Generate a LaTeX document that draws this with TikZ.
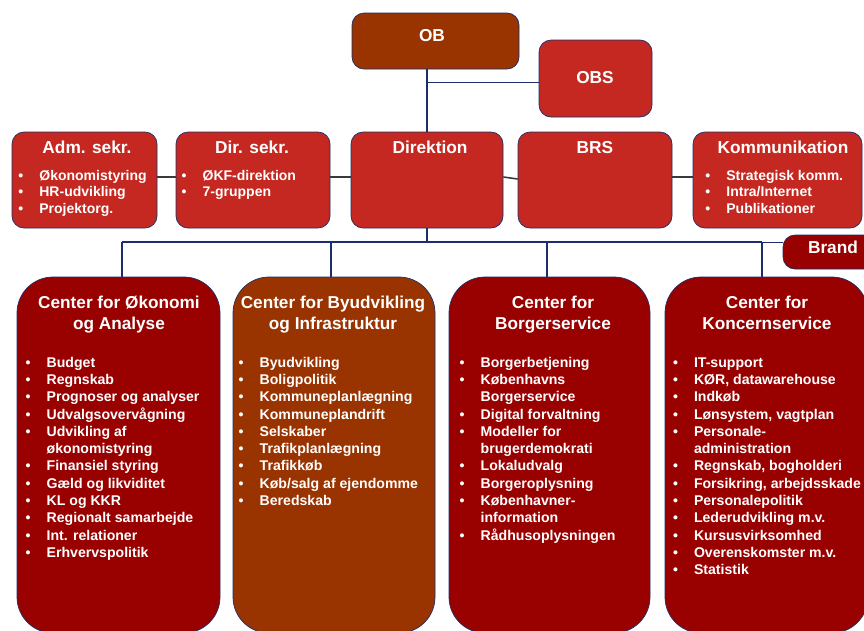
\documentclass[tikz,border=0pt]{standalone}
\usepackage{fontspec}
\setmainfont{Liberation Sans}

\definecolor{navy}{HTML}{1C2F6B}
\definecolor{obbrown}{HTML}{993300}
\definecolor{unitred}{HTML}{C42820}
\definecolor{centerred}{HTML}{990000}
\definecolor{linegray}{HTML}{3A3A3A}

% bullet and hanging indent for the item lists
\newcommand\bu{\makebox[21pt][l]{•}}
\newcommand\nb{\hspace*{21pt}}

\tikzset{
  unit/.style={draw=navy, line width=0.7pt, rounded corners=12pt, inner sep=0pt},
  bigunit/.style={unit, rounded corners=36pt, minimum width=202pt, minimum height=356pt},
  rowunit/.style={unit, minimum height=96pt},
  bus/.style={draw=navy, line width=1.6pt},
  peer/.style={draw=linegray, line width=1.6pt},
  title/.style={text=white, inner sep=0pt, anchor=base,
    font=\bfseries\fontsize{17.3}{20}\selectfont},
  bigtitle/.style={text=white, inner sep=0pt, anchor=base,
    font=\bfseries\fontsize{17.2}{21}\selectfont},
  biglist/.style={text=white, inner sep=0pt, anchor=base west,
    font=\bfseries\fontsize{14.1}{17.33}\selectfont},
  rowlist/.style={text=white, inner sep=0pt, anchor=base west,
    font=\bfseries\fontsize{14}{16.7}\selectfont},
}

\begin{document}
\begin{tikzpicture}[x=1pt, y=-1pt]
\useasboundingbox (0,0) rectangle (864,630);

% ---- top level
\node[unit, fill=obbrown, minimum width=167pt, minimum height=56pt] (OB) at (435.5,41) {};
\node[unit, fill=unitred, minimum width=113pt, minimum height=77pt] (OBS) at (595.5,78.5) {};

% ---- staff row
\node[rowunit, fill=unitred, minimum width=145pt] (Adm) at (84.5,180) {};
\node[rowunit, fill=unitred, minimum width=154pt] (Dir) at (253,180) {};
\node[rowunit, fill=unitred, minimum width=152pt] (Direktion) at (427,180) {};
\node[rowunit, fill=unitred, minimum width=154pt] (BRS) at (595,180) {};
\node[rowunit, fill=unitred, minimum width=169pt] (Komm) at (777.5,180) {};

\node[unit, fill=centerred, minimum width=97pt, minimum height=34pt] (Brand) at (831.5,252) {};

% ---- centres
\node[bigunit, fill=centerred, minimum width=203pt] (C1) at (118.5,455) {};
\node[bigunit, fill=obbrown] (C2) at (334,455) {};
\node[bigunit, fill=centerred, minimum width=201pt] (C3) at (549.5,455) {};
\node[bigunit, fill=centerred, minimum width=203pt] (C4) at (766.5,455) {};

% ---- connectors
\coordinate (obsin) at ([yshift=-4pt]OBS.west);
\coordinate (busy) at (0,242);
\coordinate (d1) at ([xshift=3.5pt]C1.north);
\coordinate (d2) at ([xshift=-3pt]C2.north);
\coordinate (d3) at ([xshift=-2.5pt]C3.north);
\coordinate (d4) at ([xshift=-4.5pt]C4.north);

\draw[bus] (OB.south -| Direktion.north) -- (Direktion.north);
\draw[bus] (obsin -| Direktion.north) -- (obsin);
\draw[bus] (Direktion.south) -- (Direktion.south |- busy);
\draw[bus] (d1 |- busy) -- (d4 |- busy);
\draw[draw=navy, line width=1pt] (d4 |- busy) -- (Brand.west |- busy);
\foreach \d in {d1,d2,d3,d4} \draw[bus] (\d |- busy) -- (\d);

\draw[peer] ([yshift=3pt]Adm.east) -- ([yshift=3pt]Dir.west);
\draw[peer] ([yshift=3pt]Dir.east) -- ([yshift=3pt]Direktion.west);
\draw[peer] ([yshift=3pt]Direktion.east) -- ([yshift=1pt]BRS.west);
\draw[peer] ([yshift=3pt]BRS.east) -- ([yshift=3pt]Komm.west);

% ---- titles
\node[title] (tOB) at (432,41.7) {OB};
\node[title] (tOBS) at (595,83.3) {OBS};
\node[title] (tAdm) at (87,153) {Adm. sekr.};
\node[title] (tDir) at (252,153) {Dir. sekr.};
\node[title] (tDirektion) at (430,153) {Direktion};
\node[title] (tBRS) at (595,153) {BRS};
\node[title] (tKomm) at (783,153) {Kommunikation};
\node[title] (tBrand) at (833,253.3) {Brand};

\node[bigtitle] (tC1) at (119,308.3) {\begin{tabular}[t]{@{}c@{}}Center for Økonomi\\og Analyse\end{tabular}};
\node[bigtitle] (tC2) at (333,308.3) {\begin{tabular}[t]{@{}c@{}}Center for Byudvikling\\og Infrastruktur\end{tabular}};
\node[bigtitle] (tC3) at (553,308.3) {\begin{tabular}[t]{@{}c@{}}Center for\\Borgerservice\end{tabular}};
\node[bigtitle] (tC4) at (767,308.3) {\begin{tabular}[t]{@{}c@{}}Center for\\Koncernservice\end{tabular}};

% ---- staff lists
\node[rowlist] (lAdm) at (18.2,180) {\begin{tabular}[t]{@{}l@{}}
\bu Økonomistyring\\ \bu HR-udvikling\\ \bu Projektorg.\end{tabular}};
\node[rowlist] (lDir) at (181.5,180) {\begin{tabular}[t]{@{}l@{}}
\bu ØKF-direktion\\ \bu 7-gruppen\end{tabular}};
\node[rowlist] (lKomm) at (705.2,180) {\begin{tabular}[t]{@{}l@{}}
\bu Strategisk komm.\\ \bu Intra/Internet\\ \bu Publikationer\end{tabular}};

% ---- centre lists
\node[biglist] (lC1) at (25.5,367) {\begin{tabular}[t]{@{}l@{}}
\bu Budget\\ \bu Regnskab\\ \bu Prognoser og analyser\\ \bu Udvalgsovervågning\\
\bu Udvikling af\\ \nb økonomistyring\\ \bu Finansiel styring\\ \bu Gæld og likviditet\\
\bu KL og KKR\\ \bu Regionalt samarbejde\\ \bu Int. relationer\\ \bu Erhvervspolitik\end{tabular}};
\node[biglist] (lC2) at (238.5,367) {\begin{tabular}[t]{@{}l@{}}
\bu Byudvikling\\ \bu Boligpolitik\\ \bu Kommuneplanlægning\\ \bu Kommuneplandrift\\
\bu Selskaber\\ \bu Trafikplanlægning\\ \bu Trafikkøb\\ \bu Køb/salg af ejendomme\\
\bu Beredskab\end{tabular}};
\node[biglist] (lC3) at (459.5,367) {\begin{tabular}[t]{@{}l@{}}
\bu Borgerbetjening\\ \bu Københavns\\ \nb Borgerservice\\ \bu Digital forvaltning\\
\bu Modeller for\\ \nb brugerdemokrati\\ \bu Lokaludvalg\\ \bu Borgeroplysning\\
\bu Københavner-\\ \nb information\\ \bu Rådhusoplysningen\end{tabular}};
\node[biglist] (lC4) at (672.8,367) {\begin{tabular}[t]{@{}l@{}}
\bu IT-support\\ \bu KØR, datawarehouse\\ \bu Indkøb\\ \bu Lønsystem, vagtplan\\
\bu Personale-\\ \nb administration\\ \bu Regnskab, bogholderi\\ \bu Forsikring, arbejdsskade\\
\bu Personalepolitik\\ \bu Lederudvikling m.v.\\ \bu Kursusvirksomhed\\
\bu Overenskomster m.v.\\ \bu Statistik\end{tabular}};
\end{tikzpicture}
\end{document}
